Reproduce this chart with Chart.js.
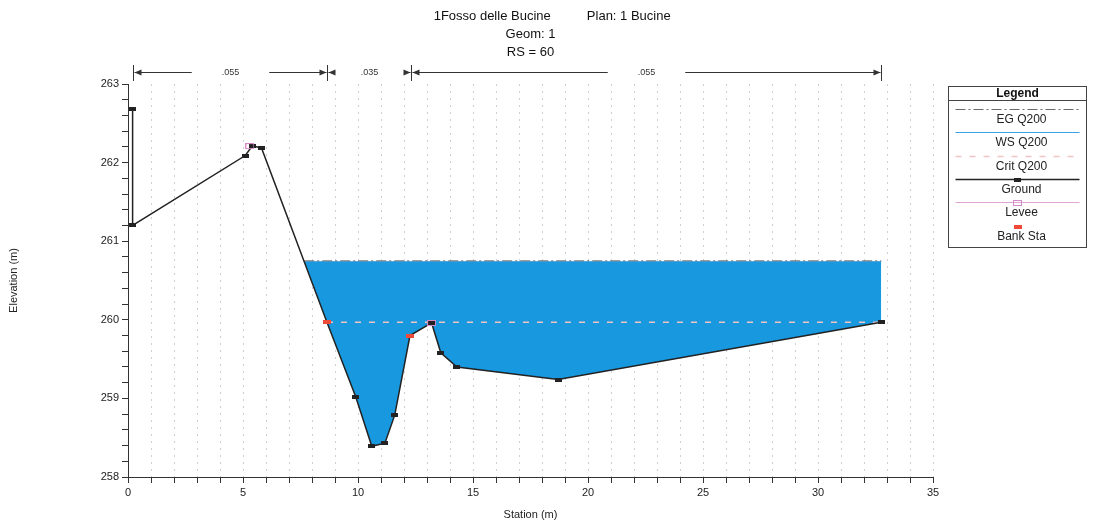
<!DOCTYPE html>
<html>
<head>
<meta charset="utf-8">
<script src="https://cdn.jsdelivr.net/npm/chart.js@4"></script>
<style>
  html, body { margin: 0; padding: 0; background: #fff; }
  #wrap { width: 1094px; height: 528px; position: relative; }
</style>
</head>
<body>
<div id="wrap"><canvas id="chart"></canvas></div>
<script>
// chart text (first title line sits a bit right of centre in the original)
const titleLines = ['            1Fosso delle Bucine          Plan: 1 Bucine', 'Geom: 1', 'RS = 60'];
const xTitle = 'Station (m)';
const yTitle = 'Elevation (m)';

// cross section (station m, elevation m)
const groundStation = [0.2, 0.2, 5.1, 5.4, 5.8, 8.65, 9.9, 10.6, 11.17, 11.6, 12.26, 13.2, 13.6, 14.3, 18.7, 32.75];
const groundElev = [262.68, 261.2, 262.09, 262.21, 262.19, 259.97, 259.02, 258.39, 258.43, 258.79, 259.8, 259.96, 259.58, 259.4, 259.24, 259.97];

// water profiles
const wsStation = [7.66, 32.75];
const wsElev = [260.74, 260.74];
const egStation = [7.66, 32.75];
const egElev = [260.75, 260.75];
const critStation = [8.65, 32.75];
const critElev = [259.97, 259.97];

// levees and bank stations
const leveeStation = [5.3, 13.2];
const leveeElev = [262.21, 259.96];
const bankStation = [8.65, 12.26];
const bankElev = [259.97, 259.8];

// manning's n zones along the top
const nBounds = [0.2, 8.65, 12.3, 32.75];
const nValues = ['.055', '.035', '.055'];

const FONT = '"Liberation Sans", Arial, sans-serif';
Chart.defaults.font.family = FONT;
Chart.defaults.color = '#222';

const pts = (xs, ys) => xs.map((x, i) => ({ x: x, y: ys[i] }));

function marker(w, h, fill, stroke) {
  const c = document.createElement('canvas');
  c.width = w; c.height = h;
  const g = c.getContext('2d');
  if (fill) { g.fillStyle = fill; g.fillRect(0, 0, w, h); }
  if (stroke) { g.strokeStyle = stroke; g.lineWidth = 1; g.strokeRect(0.5, 0.5, w - 1, h - 1); }
  return c;
}

const groundMark = marker(7, 4, '#222');
const leveeMark = marker(9, 6, null, '#d58ac8');
const bankMark = marker(8, 4, '#ee4a3a');

// n-value arrows above the plot
const nValuePlugin = {
  id: 'nValues',
  afterDraw(chart) {
    const { ctx, chartArea, scales } = chart;
    const x = scales.x;
    const y = chartArea.top - 11.5;
    ctx.save();
    ctx.strokeStyle = '#333';
    ctx.fillStyle = '#333';
    ctx.lineWidth = 1;
    ctx.font = '9px ' + FONT;
    ctx.textAlign = 'center';
    ctx.textBaseline = 'middle';
    const px = nBounds.map(b => Math.round(x.getPixelForValue(b)) + 0.5);
    px.forEach(p => {
      ctx.beginPath();
      ctx.moveTo(p, chartArea.top - 19);
      ctx.lineTo(p, chartArea.top - 3);
      ctx.stroke();
    });
    nValues.forEach((lab, i) => {
      const x0 = px[i], x1 = px[i + 1];
      const mid = (x0 + x1) / 2;
      const w = ctx.measureText(lab).width;
      const gap = Math.min(30, (x1 - x0) / 2 - w / 2 - 6);
      ctx.beginPath();
      ctx.moveTo(x0 + 1, y); ctx.lineTo(mid - w / 2 - gap, y);
      ctx.moveTo(mid + w / 2 + gap, y); ctx.lineTo(x1 - 1, y);
      ctx.stroke();
      ctx.beginPath();
      ctx.moveTo(x0 + 1, y); ctx.lineTo(x0 + 8, y - 3); ctx.lineTo(x0 + 8, y + 3); ctx.closePath();
      ctx.moveTo(x1 - 1, y); ctx.lineTo(x1 - 8, y - 3); ctx.lineTo(x1 - 8, y + 3); ctx.closePath();
      ctx.fill();
      ctx.fillText(lab, mid, y);
    });
    ctx.restore();
  }
};

// boxed legend on the right, styles read from the datasets
const legendBoxPlugin = {
  id: 'legendBox',
  afterDraw(chart) {
    const { ctx, chartArea } = chart;
    const left = chartArea.right + 15.5;
    const right = left + 138;
    const top = 86.5;
    const bottom = 247.5;
    const cx = (left + right) / 2;
    ctx.save();
    ctx.strokeStyle = '#444';
    ctx.lineWidth = 1;
    ctx.strokeRect(left, top, right - left, bottom - top);
    ctx.beginPath();
    ctx.moveTo(left, top + 14); ctx.lineTo(right, top + 14);
    ctx.stroke();
    ctx.fillStyle = '#111';
    ctx.textAlign = 'center';
    ctx.textBaseline = 'middle';
    ctx.font = 'bold 12px ' + FONT;
    ctx.fillText('Legend', cx, top + 7);
    ctx.font = '12px ' + FONT;
    const order = [0, 1, 2, 3, 4, 5];
    order.forEach((di, i) => {
      const ds = chart.data.datasets[di];
      const ly = Math.round(109 + i * 23.3) + 0.5;
      if (ds.borderWidth > 0) {
        ctx.save();
        ctx.strokeStyle = ds.borderColor;
        ctx.lineWidth = ds.borderWidth;
        ctx.setLineDash(ds.borderDash || []);
        ctx.beginPath();
        ctx.moveTo(left + 7, ly); ctx.lineTo(right - 7, ly);
        ctx.stroke();
        ctx.restore();
      }
      if (ds.pointStyle && typeof ds.pointStyle === 'object') {
        const m = ds.pointStyle;
        ctx.drawImage(m, Math.round(cx - m.width / 2), Math.round(ly - m.height / 2));
      }
      ctx.fillStyle = '#222';
      ctx.fillText(ds.label, cx + 4, ly + 10.5);
    });
    ctx.restore();
  }
};

new Chart(document.getElementById('chart'), {
  type: 'line',
  data: {
    datasets: [
      { label: 'EG Q200', data: pts(egStation, egElev), borderColor: '#6a6a6a', borderWidth: 1,
        borderDash: [10, 3, 2, 3], pointRadius: 0, fill: false, order: 3 },
      { label: 'WS Q200', data: pts(wsStation, wsElev), borderColor: '#3aa2e4', borderWidth: 1,
        backgroundColor: '#1798df', pointRadius: 0, fill: 3, order: 6 },
      { label: 'Crit Q200', data: pts(critStation, critElev), borderColor: '#f0c4c4', borderWidth: 1.5,
        borderDash: [6, 8], pointRadius: 0, fill: false, order: 4 },
      { label: 'Ground', data: pts(groundStation, groundElev), borderColor: '#222', borderWidth: 1.5,
        pointStyle: groundMark, pointRadius: 3, fill: false, order: 2 },
      { label: 'Levee', data: pts(leveeStation, leveeElev), borderColor: '#e2a6d6', borderWidth: 1,
        showLine: false, pointStyle: leveeMark, pointRadius: 3, fill: false, order: 1 },
      { label: 'Bank Sta', data: pts(bankStation, bankElev), borderColor: '#ee4a3a', borderWidth: 0,
        showLine: false, pointStyle: bankMark, pointRadius: 3, fill: false, order: 0 }
    ]
  },
  options: {
    responsive: true,
    maintainAspectRatio: false,
    animation: false,
    events: [],
    layout: { padding: { left: 0, right: 161, top: 0, bottom: 4 } },
    plugins: {
      legend: { display: false },
      tooltip: { enabled: false },
      title: {
        display: true,
        text: titleLines,
        fullSize: false,
        color: '#111',
        font: { size: 13, weight: 'normal', lineHeight: 1.4 },
        padding: { top: 7, bottom: 22.4 }
      }
    },
    scales: {
      x: {
        type: 'linear',
        min: 0,
        max: 35,
        afterFit(scale) { scale.height = 47; },
        ticks: {
          stepSize: 1,
          autoSkip: false,
          maxRotation: 0,
          padding: 3,
          font: { size: 11 },
          callback: v => (v % 5 === 0 ? String(v) : '')
        },
        grid: { color: '#cfcfcf', lineWidth: 1, tickLength: 6, tickColor: '#333', tickWidth: 1 },
        border: { color: '#333', width: 1, dash: [2, 5] },
        title: { display: true, text: xTitle, font: { size: 11 }, padding: { top: 4, bottom: 2.4 } }
      },
      y: {
        type: 'linear',
        min: 258,
        max: 263,
        afterFit(scale) { scale.width = 128; },
        ticks: {
          stepSize: 0.2,
          autoSkip: false,
          padding: 3,
          font: { size: 11 },
          callback: v => (Math.abs(v - Math.round(v)) < 1e-6 ? String(Math.round(v)) : '')
        },
        grid: { drawOnChartArea: false, tickLength: 6, tickColor: '#333', tickWidth: 1 },
        border: { color: '#333', width: 1 },
        title: { display: true, text: yTitle, font: { size: 11 }, padding: { top: 7, bottom: 4 } }
      }
    }
  },
  plugins: [nValuePlugin, legendBoxPlugin]
});
</script>
</body>
</html>
